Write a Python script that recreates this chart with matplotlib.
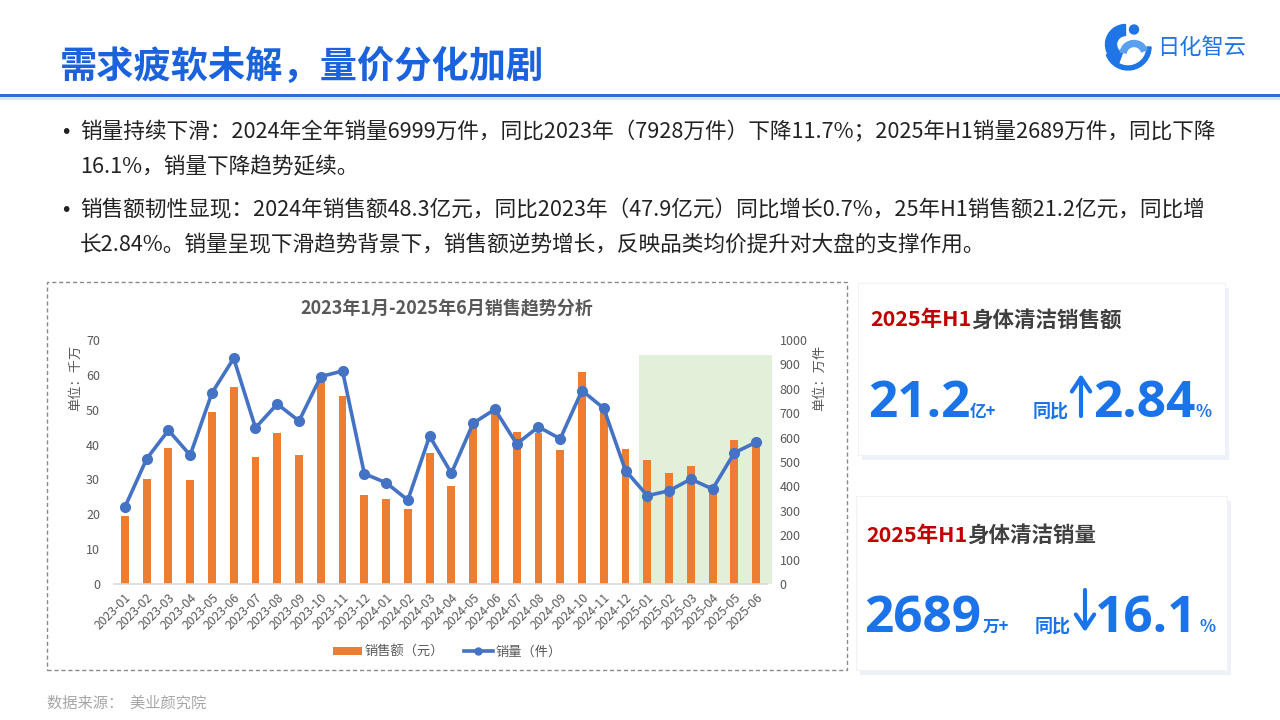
import matplotlib
matplotlib.use("Agg")
import matplotlib.pyplot as plt
from matplotlib.patches import FancyBboxPatch, Rectangle, Circle, Wedge, FancyArrowPatch
from matplotlib.lines import Line2D
from matplotlib.patches import Patch
import numpy as np

plt.rcParams['font.family'] = ['Noto Sans CJK SC', 'DejaVu Sans']

# ---------------- data ----------------
months = ["2023-01", "2023-02", "2023-03", "2023-04", "2023-05", "2023-06",
          "2023-07", "2023-08", "2023-09", "2023-10", "2023-11", "2023-12",
          "2024-01", "2024-02", "2024-03", "2024-04", "2024-05", "2024-06",
          "2024-07", "2024-08", "2024-09", "2024-10", "2024-11", "2024-12",
          "2025-01", "2025-02", "2025-03", "2025-04", "2025-05", "2025-06"]
sales_amount = [19.4, 30.1, 38.9, 29.9, 49.4, 56.4, 36.5, 43.4, 37.1, 58.3, 53.9, 25.5,
                24.4, 21.6, 37.6, 28.0, 45.5, 49.5, 43.6, 43.3, 38.3, 60.9, 50.0, 38.7,
                35.6, 31.8, 33.9, 28.5, 41.3, 40.5]
sales_volume = [315, 513, 630, 528, 783, 925, 640, 738, 668, 850, 873, 452,
                415, 344, 606, 454, 659, 716, 574, 644, 595, 793, 720, 465,
                362, 382, 430, 389, 538, 581]
left_ticks = [0, 10, 20, 30, 40, 50, 60, 70]
right_ticks = [0, 100, 200, 300, 400, 500, 600, 700, 800, 900, 1000]

W, H = 1280, 720
fig = plt.figure(figsize=(12.8, 7.2), dpi=100)
fig.patch.set_facecolor("white")

def fx(x):
    return x / W

def fy(y):
    return 1 - y / H

# ---------------- header ----------------
fig.text(fx(60), fy(67), "需求疲软未解，量价分化加剧", fontsize=26.8, fontweight=900,
         color='#1a63dc', ha='left', va='center')
fig.add_artist(Rectangle((0, fy(97)), 1, 3 / H, transform=fig.transFigure,
                         facecolor='#2f6fcf', edgecolor='none', zorder=-5))
fig.add_artist(Rectangle((0, fy(100)), 1, 3 / H, transform=fig.transFigure,
                         facecolor='#dbe7f7', edgecolor='none', zorder=-5))

# logo
logo_ax = fig.add_axes([fx(1103), fy(72), 50 / W, 50 / H])
logo_ax.set_xlim(0, 1); logo_ax.set_ylim(0, 1); logo_ax.axis('off')
logo_ax.add_patch(Wedge((0.5, 0.5), 0.46, 200, 360, width=0.08, color='#1f74e6'))
logo_ax.add_patch(Wedge((0.45, 0.55), 0.4, 90, 250, width=0.22, color='#1f74e6'))
logo_ax.add_patch(Circle((0.62, 0.85), 0.09, color='#1f74e6'))
logo_ax.add_patch(Wedge((0.62, 0.35), 0.28, 20, 170, width=0.12, color='#5aa0f0'))
fig.text(fx(1157), fy(47), "日化智云", fontsize=16, color='#1f74e6', ha='left', va='center')

# ---------------- bullets ----------------
bullets = [
    (132, "•", "销量持续下滑：2024年全年销量6999万件，同比2023年（7928万件）下降11.7%；2025年H1销量2689万件，同比下降"),
    (167, "", "16.1%，销量下降趋势延续。"),
    (210, "•", "销售额韧性显现：2024年销售额48.3亿元，同比2023年（47.9亿元）同比增长0.7%，25年H1销售额21.2亿元，同比增"),
    (245, "", "长2.84%。销量呈现下滑趋势背景下，销售额逆势增长，反映品类均价提升对大盘的支撑作用。"),
]
for y, b, t in bullets:
    if b:
        fig.text(fx(60), fy(y), b, fontsize=14, color='#222222', ha='left', va='center',
                 family=['DejaVu Sans'])
    fig.text(fx(80), fy(y), t, fontsize=15.6, color='#222222', ha='left', va='center')

# ---------------- chart panel ----------------
fig.add_artist(Rectangle((fx(47), fy(670)), 800 / W, 388 / H, transform=fig.transFigure,
                         facecolor='white', edgecolor='#8a8a8a', linestyle=(0, (3, 2)),
                         linewidth=1.0, zorder=-5))
fig.text(fx(447), fy(309), "2023年1月-2025年6月销售趋势分析", fontsize=13, fontweight='bold',
         color='#595959', ha='center', va='center')

ax = fig.add_axes([fx(114), fy(584), (767 - 114) / W, (584 - 340) / H])
ax.patch.set_visible(False)
x = np.arange(len(months))
ax.set_xlim(-0.5, len(months) - 0.5)
ax.set_ylim(0, 70)

# green highlight area for 2025H1 (top ~ 938 on the right scale = 65.7 on the left)
ax.add_patch(Rectangle((23.62, 0), 6.1, 65.7, facecolor='#e2f0d9', edgecolor='none',
                       zorder=0, clip_on=False))
ax.bar(x, sales_amount, width=0.36, color='#ed7d31', zorder=2)

ax2 = ax.twinx()
ax2.set_ylim(0, 1000)
ax2.plot(x, sales_volume, color='#4472c4', linewidth=2.6, marker='o', markersize=7,
         zorder=3)

for a in (ax, ax2):
    for s in a.spines.values():
        s.set_visible(False)
ax.spines['bottom'].set_visible(True)
ax.spines['bottom'].set_color('#d9d9d9')
ax.spines['bottom'].set_linewidth(1.2)

ax.set_yticks(left_ticks)
ax.set_yticklabels([str(v) for v in left_ticks])
ax2.set_yticks(right_ticks)
ax2.set_yticklabels([str(v) for v in right_ticks])
ax.tick_params(axis='y', length=0, pad=10, labelsize=9, labelcolor='#595959')
ax2.tick_params(axis='y', length=0, pad=9, labelsize=9, labelcolor='#595959')
ax.set_xticks(x)
ax.set_xticklabels(months, rotation=45, ha='right', rotation_mode='anchor')
ax.tick_params(axis='x', length=0, pad=5, labelsize=8.8, labelcolor='#595959')

fig.text(fx(76), fy(378), "单位：千万", rotation=90, fontsize=9.5, color='#595959',
         ha='center', va='center')
fig.text(fx(820), fy(378), "单位：万件", rotation=90, fontsize=9.5, color='#595959',
         ha='center', va='center')

handles = [Patch(facecolor='#ed7d31', edgecolor='none'),
           Line2D([0], [0], color='#4472c4', linewidth=2.6, marker='o', markersize=5)]
fig.legend(handles, ["销售额（元）", "销量（件）"], loc='center', bbox_to_anchor=(fx(447), fy(652)),
           ncol=2, frameon=False, fontsize=9.5, labelcolor='#595959', handlelength=2.2,
           handleheight=0.6, columnspacing=1.5, handletextpad=0.2)

fig.text(fx(47), fy(703), "数据来源：  美业颜究院", fontsize=11, color='#a6a6a6', ha='left',
         va='center')

# ---------------- cards ----------------
def card(x0, y0, x1, y1):
    fig.add_artist(FancyBboxPatch((fx(x0 + 4), fy(y1 + 5)), (x1 - x0) / W, (y1 - y0) / H,
                                  boxstyle="square,pad=0", transform=fig.transFigure,
                                  facecolor='#eef1f8', edgecolor='none', zorder=-5))
    fig.add_artist(FancyBboxPatch((fx(x0), fy(y1)), (x1 - x0) / W, (y1 - y0) / H,
                                  boxstyle="square,pad=0", transform=fig.transFigure,
                                  facecolor='white', edgecolor='#f0f2f7', linewidth=0.8,
                                  zorder=-4))

card(858, 283, 1225, 455)
card(856, 496, 1227, 670)

red = '#c00000'
dark = '#404040'
blue = '#1a73e8'

def arrow(xc, y_from, y_to):
    fig.add_artist(FancyArrowPatch((fx(xc), fy(y_from)), (fx(xc), fy(y_to)),
                                   transform=fig.transFigure,
                                   arrowstyle='->,head_length=0.45,head_width=0.3',
                                   mutation_scale=22, linewidth=3, color=blue,
                                   shrinkA=0, shrinkB=0))

fig.text(fx(870), fy(320), "2025年H1", fontsize=15.5, fontweight='bold', color=red,
         ha='left', va='center')
fig.text(fx(971), fy(320), "身体清洁销售额", fontsize=15.5, fontweight='bold', color=dark,
         ha='left', va='center')
fig.text(fx(868), fy(417), "21.2", fontsize=37, fontweight='bold', color=blue,
         ha='left', va='baseline', family=['Open Sans', 'DejaVu Sans'])
fig.text(fx(970), fy(417), "亿+", fontsize=12, fontweight='bold', color=blue,
         ha='left', va='baseline')
fig.text(fx(1033), fy(417), "同比", fontsize=13, fontweight='bold', color=blue,
         ha='left', va='baseline')
arrow(1081, 416, 374)
fig.text(fx(1093), fy(417), "2.84", fontsize=37, fontweight='bold', color=blue,
         ha='left', va='baseline', family=['Open Sans', 'DejaVu Sans'])
fig.text(fx(1196), fy(417), "%", fontsize=12, fontweight='bold', color=blue,
         ha='left', va='baseline')

fig.text(fx(866), fy(535), "2025年H1", fontsize=15.5, fontweight='bold', color=red,
         ha='left', va='center')
fig.text(fx(967), fy(535), "身体清洁销量", fontsize=15.5, fontweight='bold', color=dark,
         ha='left', va='center')
fig.text(fx(864), fy(632), "2689", fontsize=37, fontweight='bold', color=blue,
         ha='left', va='baseline', family=['Open Sans', 'DejaVu Sans'])
fig.text(fx(983), fy(632), "万+", fontsize=12, fontweight='bold', color=blue,
         ha='left', va='baseline')
fig.text(fx(1035), fy(632), "同比", fontsize=13, fontweight='bold', color=blue,
         ha='left', va='baseline')
arrow(1085, 590, 632)
fig.text(fx(1095), fy(632), "16.1", fontsize=37, fontweight='bold', color=blue,
         ha='left', va='baseline', family=['Open Sans', 'DejaVu Sans'])
fig.text(fx(1199), fy(632), "%", fontsize=12, fontweight='bold', color=blue,
         ha='left', va='baseline')

fig.savefig("out.png", dpi=100, facecolor='white')
